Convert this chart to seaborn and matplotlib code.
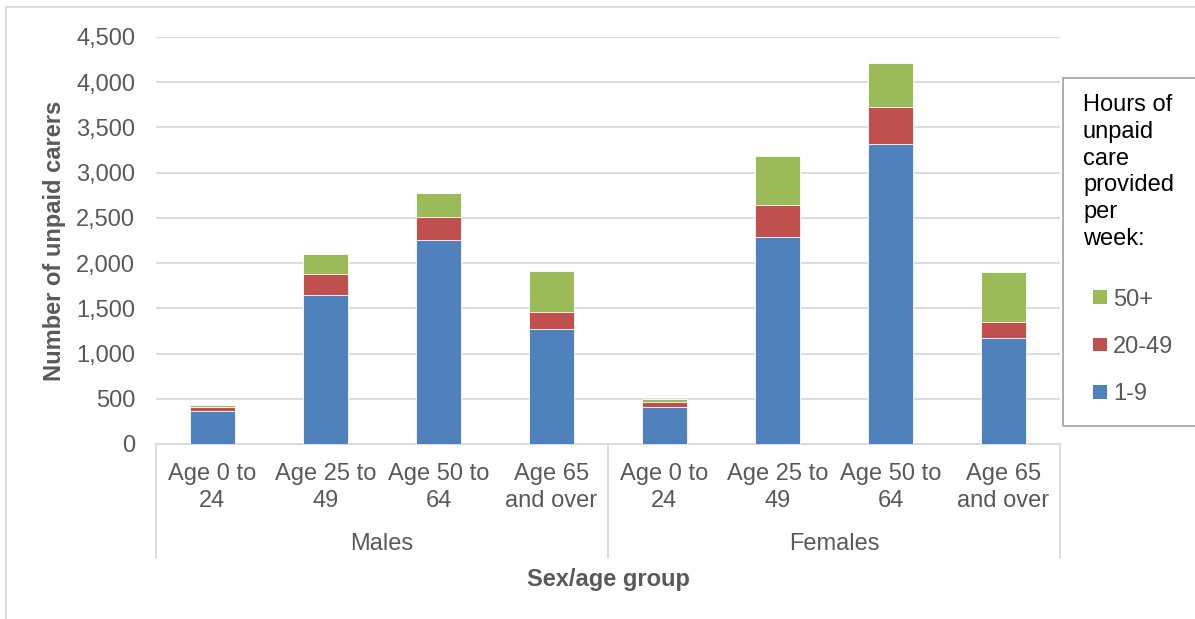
import matplotlib as mpl
mpl.use('agg')
import matplotlib.pyplot as plt
from matplotlib.patches import Patch, Rectangle
from matplotlib.legend_handler import HandlerPatch
import pandas as pd
import seaborn as sns

# data
groups = ['Males', 'Females']
ages = ['Age 0 to\n24', 'Age 25 to\n49', 'Age 50 to\n64', 'Age 65\nand over']
hours_1_9 = [360, 1645, 2255, 1270, 410, 2290, 3320, 1175]
hours_20_49 = [45, 240, 250, 190, 50, 350, 410, 175]
hours_50 = [30, 215, 265, 455, 40, 545, 480, 555]
series = ['1-9', '20-49', '50+']
colors = {'1-9': '#4F81BD', '20-49': '#C0504D', '50+': '#9BBB59'}

keys = [f'{g}|{a}' for g in groups for a in ages]
df = pd.DataFrame({'key': keys, '1-9': hours_1_9, '20-49': hours_20_49, '50+': hours_50})
df['c1'] = df['1-9']
df['c2'] = df['c1'] + df['20-49']
df['c3'] = df['c2'] + df['50+']

sns.set_theme(style='white')
plt.rcParams['font.family'] = ['Liberation Sans', 'DejaVu Sans']
text_col = '#595959'
grid_col = '#D9D9D9'
fs = 17

W, H = 1195, 619
fig = plt.figure(figsize=(W / 100, H / 100), dpi=100)
ax = fig.add_axes([156 / W, 1 - 444 / H, (1060 - 156) / W, (444 - 37) / H])

# stacked bars (draw cumulative tops, largest first)
for col, name in [('c3', '50+'), ('c2', '20-49'), ('c1', '1-9')]:
    sns.barplot(data=df, x='key', y=col, order=keys, color=colors[name], width=0.4,
                saturation=1, edgecolor='white', linewidth=0.6, ax=ax, zorder=3)

ax.set_xlim(-0.5, 7.5)
ax.set_ylim(0, 4500)
ax.set_yticks(range(0, 4501, 500))
ax.set_yticklabels([f'{v:,}' for v in range(0, 4501, 500)])
ax.grid(axis='y', color=grid_col, linewidth=1.3, zorder=0)
ax.set_axisbelow(True)
for s in ['top', 'right', 'left']:
    ax.spines[s].set_visible(False)
ax.spines['bottom'].set_color(grid_col)
ax.spines['bottom'].set_linewidth(1.3)

ax.set_xticks(range(len(keys)))
ax.set_xticklabels(ages * 2)
ax.tick_params(axis='x', length=0, pad=14, labelsize=fs, labelcolor=text_col)
ax.tick_params(axis='y', length=0, pad=15, labelsize=fs, labelcolor=text_col)
for lbl in ax.get_xticklabels():
    lbl.set_linespacing(1.28)

# group labels and separators
tr = ax.get_xaxis_transform()
for i, g in enumerate(groups):
    ax.text(1.5 + 4 * i, -0.2457, g, transform=tr, ha='center', va='center',
            fontsize=fs, color=text_col)
for x in [-0.5, 3.5, 7.5]:
    ax.plot([x, x], [0, -0.281], transform=tr, color=grid_col, linewidth=1.3, clip_on=False)

ax.set_xlabel('Sex/age group', fontsize=fs, fontweight='bold', color=text_col)
ax.xaxis.set_label_coords(0.5, -0.305)
ax.xaxis.label.set_va('top')
ax.set_ylabel('Number of unpaid carers', fontsize=fs, fontweight='bold', color=text_col)
ax.yaxis.set_label_coords(-0.1, 0.5)


# legend: small squares sitting at the right end of the handle slot
def square(legend, orig_handle, xdescent, ydescent, width, height, fontsize):
    return Rectangle((-xdescent + width - height, -ydescent), height, height)


handles = [Patch(facecolor=colors[n], edgecolor='none') for n in ['50+', '20-49', '1-9']]
leg = fig.legend(handles, ['50+', '20-49', '1-9'],
                 title='Hours of\nunpaid\ncare\nprovided\nper\nweek:',
                 loc='upper left', bbox_to_anchor=(1083 / W, 1 - 94 / H),
                 frameon=False, fontsize=fs, title_fontsize=fs, alignment='left',
                 handlelength=1.02, handleheight=0.52, handletextpad=0.25,
                 labelspacing=1.07, borderpad=0, borderaxespad=0,
                 handler_map={Patch: HandlerPatch(patch_func=square)})
leg._legend_box.sep = 28  # extra gap between title and entries
for t in leg.get_texts():
    t.set_color(text_col)
leg.get_title().set_color('black')
leg.get_title().set_linespacing(1.28)
fig.add_artist(Rectangle((1063 / W, 1 - 426 / H), 200 / W, (426 - 78) / H,
                         transform=fig.transFigure, fill=False, edgecolor='#A6A6A6',
                         linewidth=1.3))

# outer chart border
fig.add_artist(Rectangle((6 / W, -0.1), 1.2, 1 - 7 / H + 0.1, transform=fig.transFigure,
                         fill=False, edgecolor=grid_col, linewidth=1.3))

plt.savefig('out.png', dpi=100)
